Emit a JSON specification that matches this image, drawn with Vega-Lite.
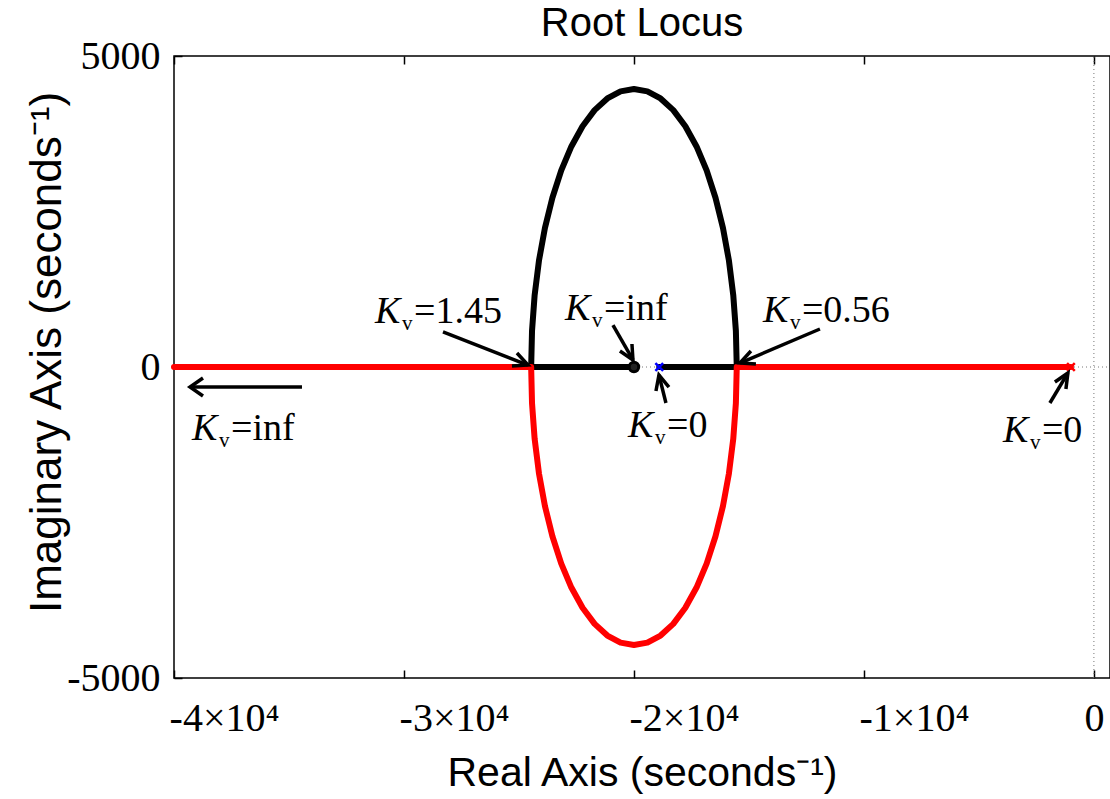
{
 "$schema": "https://vega.github.io/schema/vega-lite/v6.json",
 "width": 936,
 "height": 622,
 "autosize": {"type": "none"},
 "padding": {"left": 174, "top": 56, "right": 0, "bottom": 121},
 "background": "white",
 "title": {"text": "Root Locus", "font": "Liberation Sans", "fontSize": 40, "fontWeight": "normal", "color": "black", "anchor": "middle", "baseline": "alphabetic", "offset": 0, "dy": 40},
 "config": {
  "view": {"stroke": "black", "strokeWidth": 1.5},
  "axis": {"grid": false, "domain": false, "tickColor": "black", "tickWidth": 1.5, "tickSize": -8, "labelColor": "black", "labelFont": "Liberation Serif", "labelFontSize": 40, "titleFont": "Liberation Sans", "titleFontSize": 41, "titleFontWeight": "normal", "titleColor": "black", "labelFlush": false, "labelOverlap": false}
 },
 "datasets": {
  "zerolines": [
   {"k": "h", "o": 0, "x": -40000, "y": 0}, {"k": "h", "o": 1, "x": 700, "y": 0},
   {"k": "v", "o": 0, "x": 0, "y": -5000}, {"k": "v", "o": 1, "x": 0, "y": 5000}
  ],
  "black": [
   {"o": 0, "x": -18900, "y": 0}, {"o": 1, "x": -15530, "y": 0}, {"o": 2, "x": -15568, "y": 583},
   {"o": 3, "x": -15682, "y": 1157}, {"o": 4, "x": -15870, "y": 1711}, {"o": 5, "x": -16129, "y": 2235},
   {"o": 6, "x": -16454, "y": 2721}, {"o": 7, "x": -16839, "y": 3161}, {"o": 8, "x": -17279, "y": 3546},
   {"o": 9, "x": -17765, "y": 3871}, {"o": 10, "x": -18289, "y": 4130}, {"o": 11, "x": -18843, "y": 4318},
   {"o": 12, "x": -19417, "y": 4432}, {"o": 13, "x": -20000, "y": 4470}, {"o": 14, "x": -20583, "y": 4432},
   {"o": 15, "x": -21157, "y": 4318}, {"o": 16, "x": -21711, "y": 4130}, {"o": 17, "x": -22235, "y": 3871},
   {"o": 18, "x": -22721, "y": 3546}, {"o": 19, "x": -23161, "y": 3161}, {"o": 20, "x": -23546, "y": 2721},
   {"o": 21, "x": -23871, "y": 2235}, {"o": 22, "x": -24130, "y": 1711}, {"o": 23, "x": -24318, "y": 1157},
   {"o": 24, "x": -24432, "y": 583}, {"o": 25, "x": -24470, "y": 0}, {"o": 26, "x": -20000, "y": 0}
  ],
  "red": [
   {"o": 0, "x": -1000, "y": 0}, {"o": 1, "x": -15530, "y": 0}, {"o": 2, "x": -15568, "y": -583},
   {"o": 3, "x": -15682, "y": -1157}, {"o": 4, "x": -15870, "y": -1711}, {"o": 5, "x": -16129, "y": -2235},
   {"o": 6, "x": -16454, "y": -2721}, {"o": 7, "x": -16839, "y": -3161}, {"o": 8, "x": -17279, "y": -3546},
   {"o": 9, "x": -17765, "y": -3871}, {"o": 10, "x": -18289, "y": -4130}, {"o": 11, "x": -18843, "y": -4318},
   {"o": 12, "x": -19417, "y": -4432}, {"o": 13, "x": -20000, "y": -4470}, {"o": 14, "x": -20583, "y": -4432},
   {"o": 15, "x": -21157, "y": -4318}, {"o": 16, "x": -21711, "y": -4130}, {"o": 17, "x": -22235, "y": -3871},
   {"o": 18, "x": -22721, "y": -3546}, {"o": 19, "x": -23161, "y": -3161}, {"o": 20, "x": -23546, "y": -2721},
   {"o": 21, "x": -23871, "y": -2235}, {"o": 22, "x": -24130, "y": -1711}, {"o": 23, "x": -24318, "y": -1157},
   {"o": 24, "x": -24432, "y": -583}, {"o": 25, "x": -24470, "y": 0}, {"o": 26, "x": -40000, "y": 0}
  ],
  "arrows": [
   {"id": "A1s", "o": 0, "x": -28304, "y": 563}, {"id": "A1s", "o": 1, "x": -24609, "y": 32},
   {"id": "A1h", "o": 0, "x": -25304, "y": 16}, {"id": "A1h", "o": 1, "x": -24609, "y": 32}, {"id": "A1h", "o": 2, "x": -25087, "y": 225},
   {"id": "A2s", "o": 0, "x": -20913, "y": 675}, {"id": "A2s", "o": 1, "x": -20043, "y": 113},
   {"id": "A2h", "o": 0, "x": -20087, "y": 370}, {"id": "A2h", "o": 1, "x": -20043, "y": 113}, {"id": "A2h", "o": 2, "x": -20609, "y": 257},
   {"id": "A3s", "o": 0, "x": -11913, "y": 611}, {"id": "A3s", "o": 1, "x": -15391, "y": 64},
   {"id": "A3h", "o": 0, "x": -14696, "y": 48}, {"id": "A3h", "o": 1, "x": -15391, "y": 64}, {"id": "A3h", "o": 2, "x": -14913, "y": 257},
   {"id": "A4s", "o": 0, "x": -18609, "y": -579}, {"id": "A4s", "o": 1, "x": -18913, "y": -129},
   {"id": "A4h", "o": 0, "x": -19043, "y": -386}, {"id": "A4h", "o": 1, "x": -18913, "y": -129}, {"id": "A4h", "o": 2, "x": -18478, "y": -322},
   {"id": "A5s", "o": 0, "x": -1913, "y": -579}, {"id": "A5s", "o": 1, "x": -1130, "y": -96},
   {"id": "A5h", "o": 0, "x": -1696, "y": -241}, {"id": "A5h", "o": 1, "x": -1130, "y": -96}, {"id": "A5h", "o": 2, "x": -1217, "y": -354},
   {"id": "A6s", "o": 0, "x": -34435, "y": -322}, {"id": "A6s", "o": 1, "x": -39304, "y": -322},
   {"id": "A6h", "o": 0, "x": -38739, "y": -177}, {"id": "A6h", "o": 1, "x": -39304, "y": -322}, {"id": "A6h", "o": 2, "x": -38739, "y": -466}
  ],
  "labels": [
   {"x": -31261, "y": 707, "t": "=1.45"},
   {"x": -23000, "y": 756, "t": "=inf"},
   {"x": -14391, "y": 723, "t": "=0.56"},
   {"x": -20261, "y": -1125, "t": "=0"},
   {"x": -3957, "y": -1206, "t": "=0"},
   {"x": -39217, "y": -1174, "t": "=inf"}
  ]
 },
 "resolve": {"axis": {"x": "independent"}},
 "layer": [
  {
   "layer": [
    {
     "data": {"name": "zerolines"},
     "mark": {"type": "line", "color": "#777777", "strokeWidth": 1, "strokeDash": [1, 3]},
     "encoding": {
      "x": {"field": "x", "type": "quantitative", "scale": {"domain": [-40000, 700], "nice": false, "zero": false},
       "axis": {"values": [-40000, -30000, -20000, -10000, 0], "labelExpr": "datum.value == 0 ? '0' : '-' + (-datum.value / 10000) + '×10⁴'", "labelAlign": "center", "labelOffset": {"condition": {"test": "datum.value == 0", "value": 0}, "value": 50}, "labelBaseline": "alphabetic", "labelPadding": 60, "title": "Real Axis (seconds⁻¹)", "titleBaseline": "alphabetic", "titleY": 107}},
      "y": {"field": "y", "type": "quantitative", "scale": {"domain": [-5000, 5000], "nice": false, "zero": false},
       "axis": {"values": [-5000, 0, 5000], "labelExpr": "datum.value < 0 ? '-' + (-datum.value) : '' + datum.value", "labelPadding": 22, "labelBaseline": "middle", "title": "Imaginary Axis (seconds⁻¹)", "titleFontSize": 44, "titleX": -127, "titleY": 296, "titleBaseline": "middle"}},
      "detail": {"field": "k"},
      "order": {"field": "o", "type": "quantitative"}
     }
    },
    {
     "data": {"name": "black"},
     "mark": {"type": "line", "color": "black", "strokeWidth": 6, "strokeCap": "round", "strokeJoin": "round"},
     "encoding": {
      "x": {"field": "x", "type": "quantitative"},
      "y": {"field": "y", "type": "quantitative"},
      "order": {"field": "o", "type": "quantitative"}
     }
    },
    {
     "data": {"name": "red"},
     "mark": {"type": "line", "color": "#ff0000", "strokeWidth": 6, "strokeCap": "round", "strokeJoin": "round"},
     "encoding": {
      "x": {"field": "x", "type": "quantitative"},
      "y": {"field": "y", "type": "quantitative"},
      "order": {"field": "o", "type": "quantitative"}
     }
    },
    {
     "data": {"values": [{"x": -20000, "y": 0}]},
     "mark": {"type": "point", "shape": "circle", "filled": true, "fill": "#222222", "stroke": "black", "strokeWidth": 3, "size": 90, "opacity": 1},
     "encoding": {"x": {"field": "x", "type": "quantitative"}, "y": {"field": "y", "type": "quantitative"}}
    },
    {
     "data": {"values": [{"x": -18900, "y": 0, "c": "b"}, {"x": -1000, "y": 0, "c": "r"}]},
     "mark": {"type": "point", "shape": "M-1,-1L1,1M-1,1L1,-1", "filled": false, "strokeWidth": 2.5, "size": 60, "opacity": 1},
     "encoding": {
      "x": {"field": "x", "type": "quantitative"}, "y": {"field": "y", "type": "quantitative"},
      "stroke": {"field": "c", "type": "nominal", "scale": {"domain": ["b", "r"], "range": ["#0000ff", "#ff0000"]}, "legend": null}
     }
    },
    {
     "data": {"name": "arrows"},
     "mark": {"type": "line", "color": "black", "strokeWidth": 3.5, "strokeJoin": "miter", "strokeCap": "butt"},
     "encoding": {
      "x": {"field": "x", "type": "quantitative"},
      "y": {"field": "y", "type": "quantitative"},
      "detail": {"field": "id"},
      "order": {"field": "o", "type": "quantitative"}
     }
    },
    {
     "data": {"name": "labels"},
     "mark": {"type": "text", "font": "Liberation Serif", "fontStyle": "italic", "fontSize": 38, "align": "left", "baseline": "alphabetic", "color": "black"},
     "encoding": {"x": {"field": "x", "type": "quantitative"}, "y": {"field": "y", "type": "quantitative"}, "text": {"value": "K"}}
    },
    {
     "data": {"name": "labels"},
     "mark": {"type": "text", "font": "Liberation Serif", "fontSize": 21, "align": "left", "baseline": "alphabetic", "dx": 27, "dy": 7, "color": "black"},
     "encoding": {"x": {"field": "x", "type": "quantitative"}, "y": {"field": "y", "type": "quantitative"}, "text": {"value": "v"}}
    },
    {
     "data": {"name": "labels"},
     "mark": {"type": "text", "font": "Liberation Serif", "fontSize": 38, "align": "left", "baseline": "alphabetic", "dx": 39, "color": "black"},
     "encoding": {"x": {"field": "x", "type": "quantitative"}, "y": {"field": "y", "type": "quantitative"}, "text": {"field": "t"}}
    }
   ]
  },
  {
   "data": {"values": [{"x": -20000}]},
   "mark": {"type": "point", "opacity": 0},
   "encoding": {
    "x": {"field": "x", "type": "quantitative", "axis": {"orient": "top", "values": [-40000, -30000, -20000, -10000, 0], "labels": false, "title": null}}
   }
  }
 ]
}
